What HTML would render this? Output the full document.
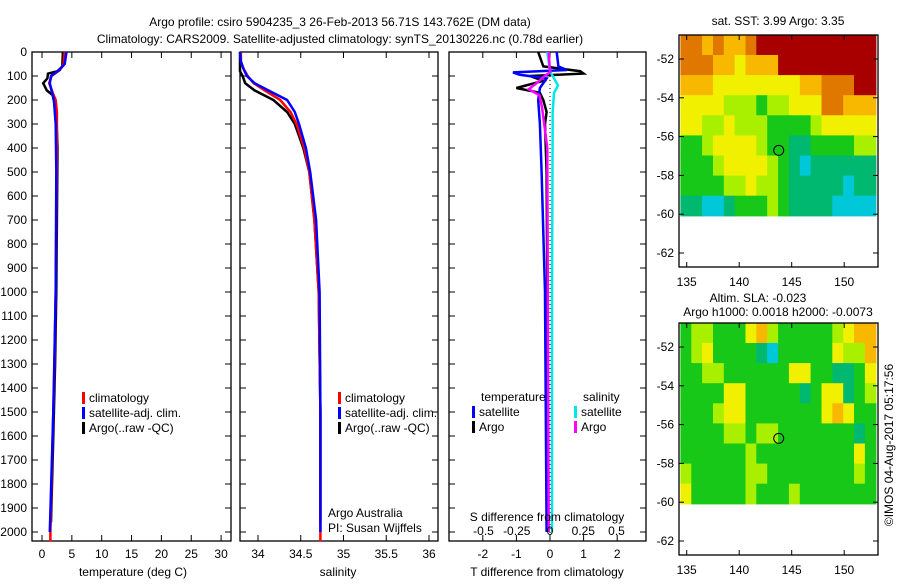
<!DOCTYPE html>
<html><head><meta charset="utf-8"><style>
body{margin:0;background:#fff;width:900px;height:580px;overflow:hidden}
svg text{font-family:"Liberation Sans",sans-serif;font-size:12px;fill:#000}
</style></head><body>
<svg id="c" width="900" height="580"></svg>
<script>
// ---- data ----
const depthTicks=[0,100,200,300,400,500,600,700,800,900,1000,1100,1200,1300,1400,1500,1600,1700,1800,1900,2000];
const tempTicks=[0,5,10,15,20,25,30];
const salTicks=[34,34.5,35,35.5,36];
const salTickLabels=["34","34.5","35","35.5","36"];
const tdiffTicks=[-2,-1,0,1,2];
const sdiffTicks=[-0.5,-0.25,0,0.25,0.5];
const sdiffTickLabels=["-0.5","-0.25","0","0.25","0.5"];
const tempClim=[[0,3.8],[50,3.6],[75,3.0],[100,1.6],[130,1.2],[170,1.8],[200,2.3],[250,2.5],[400,2.5],[700,2.4],[1000,2.3],[1300,2.1],[1600,1.8],[2000,1.4],[2040,1.4]];
const tempSat=[[0,4.1],[50,3.8],[75,2.9],[100,1.5],[130,1.3],[170,1.7],[200,2.0],[300,2.3],[500,2.4],[1000,2.3],[1500,1.9],[2000,1.3]];
const tempArgo=[[0,3.5],[60,3.4],[80,2.6],[90,1.0],[110,0.9],[130,0.2],[160,0.8],[180,1.8],[250,2.4],[400,2.6],[700,2.5],[1000,2.4],[1300,2.2],[1600,1.9],[1960,1.5]];
const salClim=[[0,33.8],[40,33.8],[70,33.83],[100,33.88],[130,33.95],[160,34.08],[200,34.26],[250,34.38],[300,34.45],[400,34.54],[500,34.6],[700,34.66],[1000,34.71],[1500,34.73],[2040,34.73]];
const salSat=[[0,33.79],[40,33.8],[70,33.83],[100,33.87],[130,33.96],[160,34.12],[200,34.34],[250,34.43],[300,34.48],[400,34.56],[500,34.61],[700,34.68],[1000,34.72],[1500,34.73],[2000,34.73]];
const salArgo=[[0,33.79],[80,33.79],[100,33.82],[130,33.85],[160,33.96],[200,34.18],[250,34.34],[300,34.43],[400,34.53],[500,34.6],[700,34.66],[1000,34.71],[1500,34.73],[1960,34.73]];
const tdiffSat=[[0,0.2],[60,0.25],[75,0.5],[85,-1.1],[95,-0.9],[110,-0.1],[150,-0.3],[200,-0.35],[300,-0.3],[500,-0.25],[1000,-0.15],[2000,-0.1]];
const tdiffArgo=[[0,-0.35],[60,-0.2],[80,0.9],[90,1.0],[100,-0.6],[120,-0.2],[150,-1.0],[170,-0.3],[200,-0.2],[250,-0.1],[300,-0.15],[500,-0.1],[1000,-0.08],[2000,-0.08]];
const sdiffSat=[[0,-0.02],[80,0.0],[110,0.03],[140,0.06],[170,0.03],[250,0.02],[1000,0.015],[2000,0.015]];
const sdiffArgo=[[0,-0.01],[85,0.0],[100,-0.04],[130,-0.1],[155,-0.16],[180,-0.08],[230,-0.06],[400,-0.02],[2000,-0.01]];
const lonTicks=[135,140,145,150];
const latTicks=[-52,-54,-56,-58,-60,-62];
const argoLon=143.762, argoLat=-56.71;
const sstGrid=[
[7,7,6,7,6,6,7,8,8,8,8,8,8,8,8,8,8,8],
[7,7,7,6,6,5,6,6,6,8,8,8,8,8,8,8,8,8],
[6,6,6,5,5,5,5,5,5,5,5,6,6,7,7,7,8,8],
[5,5,5,5,4,4,4,3,4,4,5,5,5,7,7,6,6,6],
[5,5,4,4,5,4,4,4,3,3,3,3,4,5,5,5,5,5],
[3,3,4,5,5,5,5,4,3,3,2,2,3,3,3,3,4,4],
[3,3,3,4,5,5,5,5,4,3,2,1,2,2,2,2,2,2],
[3,3,3,3,4,4,5,4,4,3,2,2,2,2,2,1,2,2],
[2,2,1,1,2,3,3,3,4,3,2,2,2,2,1,1,1,1]];
const slaGrid=[
[3,4,4,3,3,3,5,6,4,3,3,3,3,3,4,5,6,6],
[3,4,5,3,3,3,3,2,1,3,3,3,3,3,5,4,4,6],
[3,3,4,4,3,3,3,3,3,3,5,5,3,3,2,2,3,5],
[3,3,3,3,5,5,3,3,3,3,3,2,3,5,5,2,3,4],
[3,3,3,4,5,5,3,3,3,3,3,3,3,5,6,5,3,3],
[3,3,3,3,4,4,3,4,4,3,3,3,3,3,3,3,2,3],
[3,3,3,3,3,3,4,3,3,3,3,3,3,3,3,3,5,3],
[4,3,3,3,3,3,4,4,3,3,3,3,3,3,3,3,4,3],
[5,3,3,3,3,3,4,3,3,3,4,3,3,3,3,3,3,3]];
const cmap=["#fff","#00c8d8","#00b870","#18c818","#a8f000","#f0f000","#f8b800","#e07800","#a80000"];

// ---- helpers ----
const svg=document.getElementById('c');const NS="http://www.w3.org/2000/svg";
function mk(tag,at,parent){const e=document.createElementNS(NS,tag);for(const k in at)e.setAttribute(k,at[k]);(parent||svg).appendChild(e);return e;}
function txt(x,y,s,anchor,extra){const t=mk('text',Object.assign({x:x,y:y,'text-anchor':anchor||'start'},extra||{}));t.textContent=s;return t;}
const Y0=52,Y1=541; const yD=d=>Y0+d*0.24;

function frame(x0,x1,name){const r=mk('rect',{x:x0,y:Y0,width:x1-x0,height:Y1-Y0,fill:'none',stroke:'#000','stroke-width':1.3});

depthTicks.forEach(d=>{mk('line',{x1:x0,x2:x0+6,y1:yD(d),y2:yD(d),stroke:'#000'});mk('line',{x1:x1-6,x2:x1,y1:yD(d),y2:yD(d),stroke:'#000'});});}
function xticks(vals,labels,fx,x0,name){vals.forEach((v,i)=>{const x=fx(v);mk('line',{x1:x,x2:x,y1:Y1,y2:Y1-6,stroke:'#000'});mk('line',{x1:x,x2:x,y1:Y0,y2:Y0+6,stroke:'#000'});
const t=txt(x,558,labels[i],'middle');});}
function line(data,fx,color,name,w){const p=data.map(([d,v])=>fx(v).toFixed(1)+','+yD(d).toFixed(1)).join(' ');
const l=mk('polyline',{points:p,fill:'none',stroke:color,'stroke-width':w||2.5,'stroke-linejoin':'miter'});
}
function legend(x,y,color,label,name){mk('rect',{x:x,y:y-10,width:3,height:12,fill:color});const t=txt(x+7,y,label);}

// titles
let t=txt(340,26,'Argo profile: csiro 5904235_3 26-Feb-2013 56.71S 143.762E (DM data)','middle',{'font-size':13});

t=txt(340,43,'Climatology: CARS2009. Satellite-adjusted climatology: synTS_20130226.nc (0.78d earlier)','middle',{'font-size':13});

depthTicks.forEach(d=>{const t=txt(27,yD(d)+4,String(d),'end');});

// panel 1 temperature
const fT=v=>42+v*5.97;
frame(32,231,'temperature-panel');xticks(tempTicks,tempTicks.map(String),fT,32,'temperature');
line(tempArgo,fT,'#000','temp-argo-line');line(tempClim,fT,'#f00','temp-clim-line');line(tempSat,fT,'#00f','temp-sat-line');
t=txt(133,576,'temperature (deg C)','middle');
legend(82,402,'#f00','climatology','legend-climatology');legend(82,417,'#00f','satellite-adj. clim.','legend-satellite');legend(82,432,'#000','Argo(..raw -QC)','legend-argo');

// panel 2 salinity
const fS=v=>258+(v-34)*85.5;
frame(240,438,'salinity-panel');xticks(salTicks,salTickLabels,fS,240,'salinity');
line(salArgo,fS,'#000','sal-argo-line');line(salClim,fS,'#f00','sal-clim-line');line(salSat,fS,'#00f','sal-sat-line');
t=txt(338,576,'salinity','middle');
legend(338,402,'#f00','climatology','legend2-climatology');legend(338,417,'#00f','satellite-adj. clim.','legend2-satellite');legend(338,432,'#000','Argo(..raw -QC)','legend2-argo');
t=txt(328,517,'Argo Australia');
t=txt(328,532,'PI: Susan Wijffels');

// panel 3 differences
const fTd=v=>550+v*33.6, fSd=v=>550+v*133;
frame(449,646,'difference-panel');xticks(tdiffTicks,tdiffTicks.map(String),fTd,449,'tdiff');
mk('line',{x1:fTd(0),x2:fTd(0),y1:Y0,y2:Y1,stroke:'#000','stroke-dasharray':'1,3'});
line(tdiffArgo,fTd,'#000','tdiff-argo-line');line(tdiffSat,fTd,'#00f','tdiff-sat-line');
line(sdiffSat,fSd,'#00e8e8','sdiff-sat-line');line(sdiffArgo,fSd,'#f0f','sdiff-argo-line');
sdiffTicks.forEach((v,i)=>{const t=txt(fSd(v),535,sdiffTickLabels[i],'middle');});
t=txt(547,521,'S difference from climatology','middle');
t=txt(547,576,'T difference from climatology','middle');
t=txt(481,401,'temperature');
t=txt(583,401,'salinity');
legend(472,416,'#00f','satellite','legend3-t-satellite');legend(472,431,'#000','Argo','legend3-t-argo');
legend(574,416,'#00e8e8','satellite','legend3-s-satellite');legend(574,431,'#f0f','Argo','legend3-s-argo');

// maps
function map(top,grid,name){const fx=lo=>686.7+(lo-135)*10.5, fy=la=>top+24+(-52-la)*19.4;
const g=mk('g',{});
const lon0=134.4,lat0=-50.76,cw=18.6/18;
grid.forEach((row,r)=>row.forEach((v,c)=>{const x=fx(lon0+c*cw),y=fy(lat0-r*1.036);
const cell=mk('rect',{x:x.toFixed(1),y:y.toFixed(1),width:(cw*10.5+0.6).toFixed(1),height:20.7,fill:cmap[v]},g);
}));
mk('rect',{x:679,y:top,width:199,height:232,fill:'none',stroke:'#000','stroke-width':1.3});
lonTicks.forEach(l=>{const x=fx(l);mk('line',{x1:x,x2:x,y1:top,y2:top+5,stroke:'#000'});mk('line',{x1:x,x2:x,y1:top+232,y2:top+227,stroke:'#000'});
const t=txt(x,top+251,String(l),'middle');});
latTicks.forEach(l=>{const y=fy(l);mk('line',{x1:679,x2:684,y1:y,y2:y,stroke:'#000'});mk('line',{x1:873,x2:878,y1:y,y2:y,stroke:'#000'});
const t=txt(674,y+4,String(l),'end');});
const c=mk('circle',{cx:fx(argoLon),cy:fy(argoLat),r:5,fill:'none',stroke:'#000','stroke-width':1});
}
map(35,sstGrid,'sst-map');map(323,slaGrid,'sla-map');
t=txt(778,25,'sat. SST: 3.99 Argo: 3.35','middle');
t=txt(758,302,'Altim. SLA: -0.023','middle');
t=txt(778,316,'Argo h1000: 0.0018 h2000: -0.0073','middle');
t=txt(0,0,'©IMOS 04-Aug-2017 05:17:56','middle',{transform:'translate(893,445) rotate(-90)'});
</script>
</body></html>
